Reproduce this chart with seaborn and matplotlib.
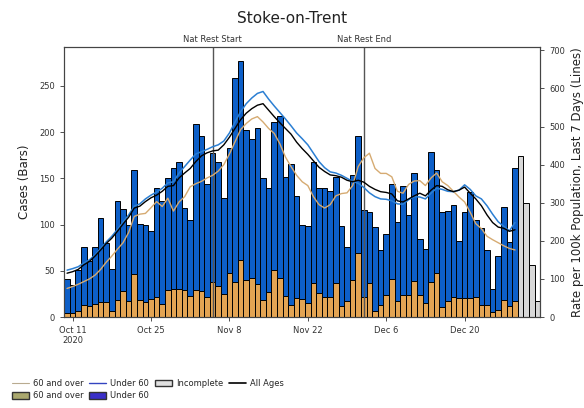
import numpy as np
import pandas as pd
import seaborn as sns
from matplotlib import pyplot as plt
from matplotlib.lines import Line2D
from matplotlib.patches import Patch
import matplotlib.transforms as mtransforms

# daily data, first bar is 10 Oct 2020
start = pd.Timestamp('2020-10-10')

cases_total = [41, 35, 51, 76, 61, 76, 107, 80, 52, 125,
               117, 100, 159, 101, 99, 93, 139, 125, 150, 161,
               168, 118, 105, 209, 196, 144, 177, 168, 129, 183,
               258, 277, 202, 192, 204, 150, 139, 211, 217, 151,
               165, 131, 99, 98, 168, 139, 139, 136, 151, 98,
               76, 153, 196, 116, 114, 97, 72, 90, 144, 103,
               142, 110, 156, 84, 73, 178, 159, 113, 115, 121,
               82, 113, 135, 105, 96, 72, 30, 66, 119, 81,
               161]
cases_60plus = [4, 4, 7, 13, 12, 14, 16, 16, 6, 18,
                28, 17, 46, 18, 16, 19, 22, 14, 29, 30,
                30, 29, 23, 29, 28, 22, 38, 33, 25, 48,
                38, 62, 40, 42, 36, 18, 27, 51, 42, 23,
                13, 21, 19, 15, 37, 26, 22, 22, 37, 12,
                17, 40, 69, 22, 37, 7, 13, 24, 41, 17,
                24, 24, 39, 24, 15, 38, 48, 11, 17, 22,
                21, 21, 21, 22, 13, 13, 5, 8, 18, 12,
                17]
incomplete = [174, 123, 56, 17]

rate_all = [115, 119, 125, 137, 146, 160, 176, 193, 207, 225,
            244, 262, 286, 291, 303, 313, 320, 330, 343, 345,
            365, 378, 390, 408, 423, 431, 436, 438, 452, 472,
            495, 518, 535, 547, 556, 560, 543, 526, 510, 495,
            480, 459, 442, 427, 410, 393, 382, 373, 371, 367,
            359, 355, 359, 354, 343, 335, 329, 327, 323, 305,
            302, 310, 318, 325, 318, 333, 345, 343, 334, 329,
            333, 341, 325, 310, 292, 268, 248, 236, 233, 225,
            229]
rate_u60 = [123, 127, 132, 142, 150, 163, 180, 197, 212, 230,
            249, 268, 291, 297, 310, 320, 328, 338, 352, 355,
            378, 395, 412, 428, 434, 440, 447, 452, 462, 483,
            512, 539, 560, 575, 587, 592, 572, 554, 537, 520,
            502, 483, 468, 452, 430, 408, 392, 381, 378, 372,
            364, 356, 351, 340, 326, 316, 310, 309, 305, 297,
            296, 308, 316, 315, 310, 325, 338, 335, 330, 329,
            333, 347, 335, 318, 310, 292, 270, 250, 238, 226,
            248]
rate_60plus = [75, 80, 86, 93, 100, 110, 125, 144, 160, 178,
               195, 222, 264, 270, 272, 287, 303, 290, 312, 278,
               302, 316, 342, 350, 356, 365, 372, 383, 400, 428,
               460, 492, 508, 520, 526, 512, 495, 482, 455, 420,
               395, 372, 355, 345, 316, 295, 286, 295, 318, 324,
               326, 345, 395, 418, 430, 390, 377, 377, 368, 330,
               325, 348, 357, 358, 345, 365, 378, 355, 345, 330,
               315, 302, 275, 245, 232, 212, 203, 195, 187, 180,
               176]

tick_dates = ['2020-10-11', '2020-10-25', '2020-11-08', '2020-11-22', '2020-12-06', '2020-12-20']
tick_labels = ['Oct 11\n2020', 'Oct 25', 'Nov 8', 'Nov 22', 'Dec 6', 'Dec 20']
events = [('Nat Rest Start', '2020-11-05'), ('Nat Rest End', '2020-12-02')]

BLUE = '#0d5fc8'
ORANGE = '#e3a453'
LINE_ORANGE = '#d6ab72'
LINE_BLUE = '#2b7fd3'
GREY = '#d8d8d8'

days = np.arange(len(cases_total))
df = pd.DataFrame({'day': days, 'total': cases_total, 'over60': cases_60plus,
                   'rate_all': rate_all, 'rate_u60': rate_u60, 'rate_60': rate_60plus})
df_inc = pd.DataFrame({'day': np.arange(len(incomplete)) + len(cases_total), 'cases': incomplete})

sns.set_theme(style="ticks")
plt.rcParams['font.family'] = ['DejaVu Sans']

fig, ax = plt.subplots(figsize=(5.84, 4.08), dpi=100)
fig.subplots_adjust(left=0.11, right=0.925, bottom=0.223, top=0.885)

bar_kw = dict(native_scale=True, width=1, edgecolor='black', linewidth=0.7,
              saturation=1, errorbar=None, ax=ax)
sns.barplot(data=df, x='day', y='total', color=BLUE, **bar_kw)
sns.barplot(data=df, x='day', y='over60', color=ORANGE, **bar_kw)
sns.barplot(data=df_inc, x='day', y='cases', color=GREY, **bar_kw)

for name, d in events:
    xd = (pd.Timestamp(d) - start).days
    ax.axvline(xd, color='#555555', lw=1, zorder=5)
    trans = mtransforms.blended_transform_factory(ax.transData, ax.transAxes)
    ax.text(xd, 1.012, name, transform=trans, ha='center', va='bottom', fontsize=6, color='#333333')

ax2 = ax.twinx()
sns.lineplot(data=df, x='day', y='rate_60', color=LINE_ORANGE, lw=1, ax=ax2)
sns.lineplot(data=df, x='day', y='rate_u60', color=LINE_BLUE, lw=1.1, ax=ax2)
sns.lineplot(data=df, x='day', y='rate_all', color='black', lw=1.0, ax=ax2)

ax.set_xlim(-0.5, len(cases_total) + len(incomplete) - 0.5)
ax.set_ylim(0, 292)
ax2.set_ylim(0, 709)
ax.set_yticks(range(0, 251, 50))
ax2.set_yticks(range(0, 701, 100))
ax.set_xticks([(pd.Timestamp(t) - start).days for t in tick_dates])
ax.set_xticklabels(tick_labels)
ax.set_xlabel('')
ax2.set_xlabel('')
ax.set_ylabel('Cases (Bars)', fontsize=8.5, color='#222222', labelpad=6)
ax2.set_ylabel('Rate per 100k Population, Last 7 Days (Lines)', fontsize=8.5, color='#222222')
for a in (ax, ax2):
    a.tick_params(labelsize=6, length=3, width=0.6, colors='#333333')
    for s in a.spines.values():
        s.set_color('#444444')
        s.set_linewidth(0.8)

fig.suptitle('Stoke-on-Trent', y=0.972, fontsize=11, color='#222222')

handles = [Line2D([], [], color='#b9ab90', lw=0.8), Patch(facecolor='#aaa86e', edgecolor='#333333'),
           Line2D([], [], color='#3344c0', lw=1), Patch(facecolor='#3a2fc8', edgecolor='#333333'),
           Patch(facecolor='#e0e0e0', edgecolor='#333333'),
           Line2D([], [], color='black', lw=1.2)]
labels = ['60 and over', '60 and over', 'Under 60', 'Under 60', 'Incomplete', 'All Ages']
fig.legend(handles, labels, loc='lower left', bbox_to_anchor=(0.008, 0.0), ncol=4, frameon=False,
           fontsize=6, handlelength=2.0, handleheight=0.8, columnspacing=0.7, handletextpad=0.5,
           labelspacing=0.45)

fig.savefig('out.png', dpi=100)
